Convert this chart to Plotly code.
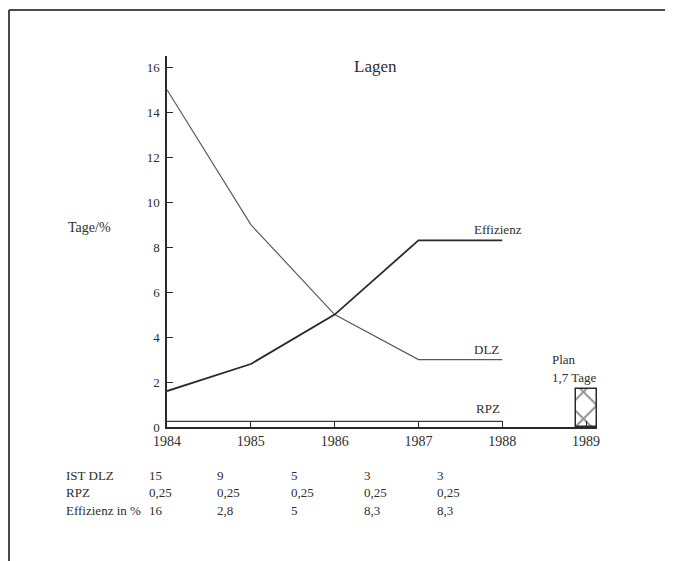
import plotly.graph_objects as go

# ---- data ----
years = [1984, 1985, 1986, 1987, 1988]
dlz = [15, 9, 5, 3, 3]
rpz = [0.25, 0.25, 0.25, 0.25, 0.25]
effizienz = [1.6, 2.8, 5, 8.3, 8.3]
plan_year = [1989]
plan_value = [1.7]
x_ticks = [1984, 1985, 1986, 1987, 1988, 1989]
y_ticks = [0, 2, 4, 6, 8, 10, 12, 14, 16]

table_labels = ["IST DLZ", "RPZ", "Effizienz in %"]
table_dlz = ["15", "9", "5", "3", "3"]
table_rpz = ["0,25", "0,25", "0,25", "0,25", "0,25"]
table_eff = ["16", "2,8", "5", "8,3", "8,3"]

# ---- layout geometry (window pixels; page body adds an 8px offset) ----
OFF = 8
W, H = 673 - OFF, 561 - OFF
PLOT_L, PLOT_R, PLOT_T, PLOT_B = 167, 597, 56, 427  # window coordinates
ML = PLOT_L - OFF
MT = PLOT_T - OFF
MR = (W + OFF) - PLOT_R
MB = (H + OFF) - PLOT_B
PW = PLOT_R - PLOT_L
PH = PLOT_B - PLOT_T


def px(x):
    return (x - PLOT_L) / PW


def py(y):
    return (PLOT_B - y) / PH


FONT = "Liberation Serif"
INK = "#2e2e2e"

fig = go.Figure()

fig.add_trace(go.Scatter(x=years, y=dlz, mode="lines",
                         line=dict(color="#5a5a5a", width=1.2), showlegend=False))
fig.add_trace(go.Scatter(x=years, y=effizienz, mode="lines",
                         line=dict(color="#2a2a2a", width=1.8), showlegend=False))
fig.add_trace(go.Scatter(x=years, y=rpz, mode="lines",
                         line=dict(color="#3a3a3a", width=1.2), showlegend=False))
fig.add_trace(go.Bar(x=plan_year, y=plan_value, width=0.25,
                     marker=dict(color="white", line=dict(color="#2a2a2a", width=1.5),
                                 pattern=dict(shape="x", fgcolor="#2a2a2a", bgcolor="white",
                                              size=19, solidity=0.2)),
                     showlegend=False))

fig.update_xaxes(range=[1984, 1989.13], tickvals=x_ticks, ticktext=[str(v) for v in x_ticks],
                 showgrid=False, zeroline=False, showline=True, linecolor="#2a2a2a",
                 linewidth=1.5, ticks="inside", ticklen=6, tickcolor="#2a2a2a",
                 tickfont=dict(family=FONT, size=14, color=INK))
fig.update_yaxes(range=[0, 16.5], tickvals=y_ticks, showgrid=False, zeroline=False,
                 showline=True, linecolor="#2a2a2a", linewidth=1.5, ticks="inside",
                 ticklen=6, tickcolor="#2a2a2a", ticklabelstandoff=3,
                 tickfont=dict(family=FONT, size=13, color=INK))

ann = []


def text(x, y, s, size=13, xanchor="left"):
    ann.append(dict(x=px(x), y=py(y), xref="paper", yref="paper", text=s, showarrow=False,
                    xanchor=xanchor, yanchor="middle",
                    font=dict(family=FONT, size=size, color=INK)))


text(375, 66, "Lagen", size=17, xanchor="center")
text(66, 227, "Tage/%", size=14)
text(472, 230, "Effizienz")
text(472, 349, "DLZ")
text(474, 408, "RPZ")
text(550, 359, "Plan")
text(550, 377, "1,7 Tage")

col_x = [147, 215, 289, 362, 435]
row_y = [475, 492, 510]
for lab, ry in zip(table_labels, row_y):
    text(64, ry, lab)
for row, ry in zip([table_dlz, table_rpz, table_eff], row_y):
    for s, cx in zip(row, col_x):
        text(cx, ry, s)

shapes = [
    dict(type="line", xref="paper", yref="paper", x0=px(9), x1=px(673), y0=py(10), y1=py(10),
         line=dict(color="#4a4a4a", width=2)),
    dict(type="line", xref="paper", yref="paper", x0=px(9), x1=px(9), y0=py(10), y1=py(561),
         line=dict(color="#4a4a4a", width=2)),
]

fig.update_layout(width=W, height=H, margin=dict(l=ML, r=MR, t=MT, b=MB),
                  plot_bgcolor="white", paper_bgcolor="white",
                  annotations=ann, shapes=shapes, bargap=0)

fig.write_html("out.html")
